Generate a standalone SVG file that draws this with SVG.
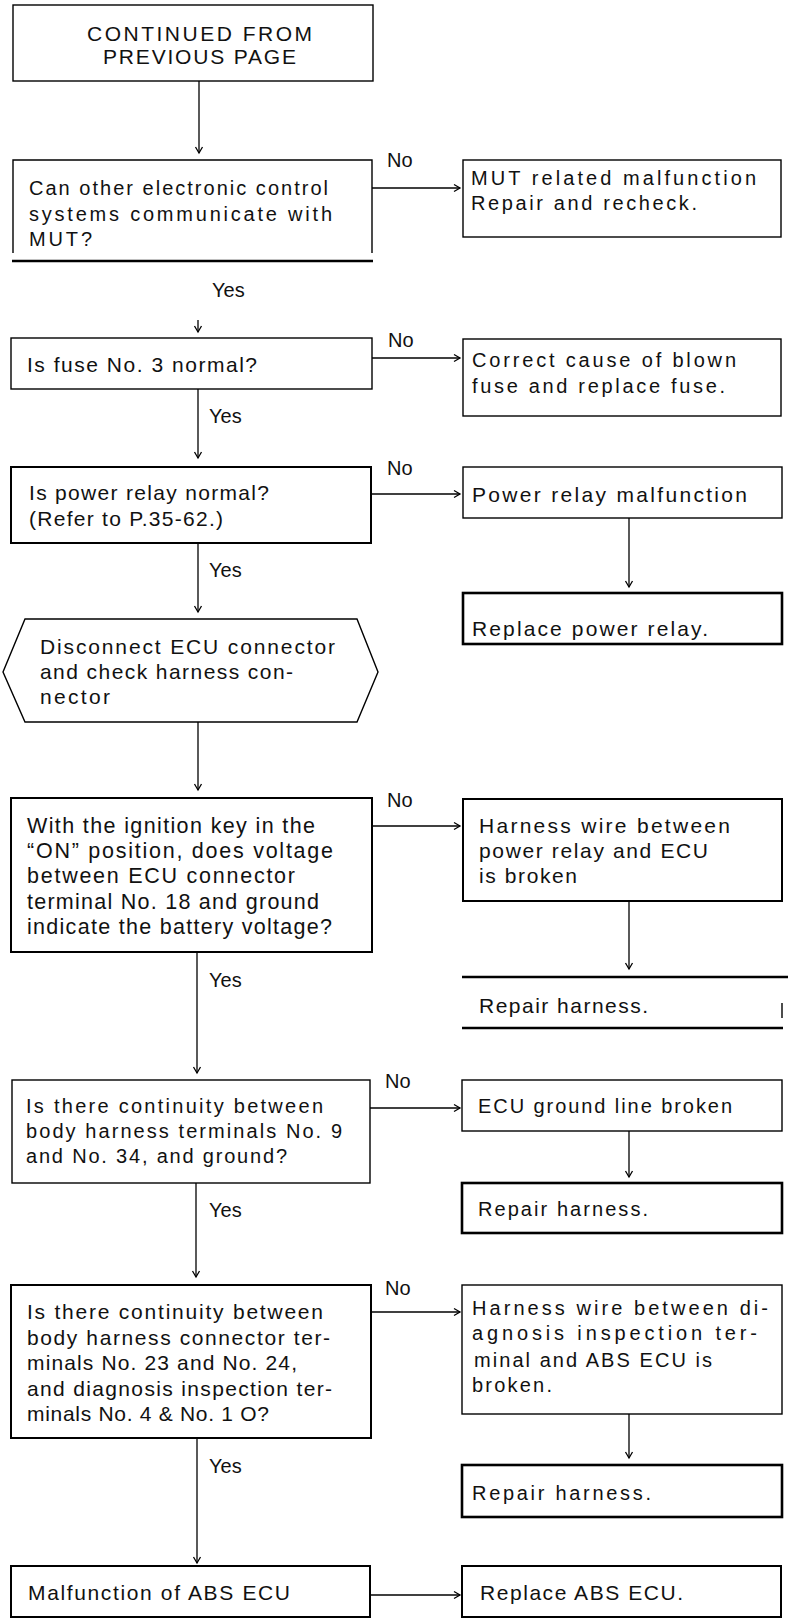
<svg xmlns="http://www.w3.org/2000/svg" width="788" height="1619" viewBox="0 0 788 1619">
<style>
  .n{fill:none;stroke:#000;stroke-width:1.4}
  .t{fill:none;stroke:#000;stroke-width:2}
  .k{fill:none;stroke:#000;stroke-width:2.6}
  text{font-family:"Liberation Sans",Arial,sans-serif;fill:#111;font-size:20px}
  .l{font-size:21px}
  .xl{font-size:21.5px}
  .c{fill:none;stroke:#000;stroke-width:1.3}
</style>
<defs>
  <marker id="ah" viewBox="-8 -5 10 10" refX="0" refY="0" markerWidth="10" markerHeight="10" markerUnits="userSpaceOnUse" orient="auto">
    <path d="M-6,-3.5 L0,0 L-6,3.5" fill="none" stroke="#000" stroke-width="1.3"/>
  </marker>
</defs>

<g id="connectors">
  <path class="c" d="M199,81 V153" marker-end="url(#ah)"/>
  <path class="c" d="M372,188 H460" marker-end="url(#ah)"/>
  <path class="c" d="M198,320 V332" marker-end="url(#ah)"/>
  <path class="c" d="M372,358 H460" marker-end="url(#ah)"/>
  <path class="c" d="M198,389 V458" marker-end="url(#ah)"/>
  <path class="c" d="M371,494 H460" marker-end="url(#ah)"/>
  <path class="c" d="M629,518 V587" marker-end="url(#ah)"/>
  <path class="c" d="M198,543 V612" marker-end="url(#ah)"/>
  <path class="c" d="M198,722 V790" marker-end="url(#ah)"/>
  <path class="c" d="M372,826 H460" marker-end="url(#ah)"/>
  <path class="c" d="M629,901 V969" marker-end="url(#ah)"/>
  <path class="c" d="M197,952 V1073" marker-end="url(#ah)"/>
  <path class="c" d="M370,1108 H460" marker-end="url(#ah)"/>
  <path class="c" d="M629,1131 V1177" marker-end="url(#ah)"/>
  <path class="c" d="M196,1183 V1277" marker-end="url(#ah)"/>
  <path class="c" d="M371,1312 H460" marker-end="url(#ah)"/>
  <path class="c" d="M629,1414 V1458" marker-end="url(#ah)"/>
  <path class="c" d="M197,1438 V1563" marker-end="url(#ah)"/>
  <path class="c" d="M370,1595 H460" marker-end="url(#ah)"/>
  <text x="387" y="167">No</text>
  <text x="388" y="347">No</text>
  <text x="387" y="475">No</text>
  <text x="387" y="807">No</text>
  <text x="385" y="1088">No</text>
  <text x="385" y="1295">No</text>
  <text x="212" y="297">Yes</text>
  <text x="209" y="423">Yes</text>
  <text x="209" y="577">Yes</text>
  <text x="209" y="987">Yes</text>
  <text x="209" y="1217">Yes</text>
  <text x="209" y="1473">Yes</text>
</g>

<g id="start">
  <rect class="n" x="13" y="5" width="360" height="76"/>
  <text class="l" x="87" y="41" textLength="225" lengthAdjust="spacing">CONTINUED  FROM</text>
  <text class="l" x="103" y="64" textLength="193" lengthAdjust="spacing">PREVIOUS  PAGE</text>
</g>

<g id="q-communicate">
  <path class="n" d="M13,253 V160 H372 V253"/>
  <path class="k" d="M12,261 H373"/>
  <text x="29" y="195" textLength="299" lengthAdjust="spacing">Can other electronic control</text>
  <text x="29" y="221" textLength="303" lengthAdjust="spacing">systems communicate with</text>
  <text x="29" y="246" textLength="63" lengthAdjust="spacing">MUT?</text>
</g>

<g id="mut-malfunction">
  <rect class="n" x="463" y="160" width="318" height="77"/>
  <text x="471" y="185" textLength="285" lengthAdjust="spacing">MUT related malfunction</text>
  <text x="471" y="210" textLength="226" lengthAdjust="spacing">Repair and recheck.</text>
</g>

<g id="q-fuse">
  <rect class="n" x="11" y="338" width="361" height="51"/>
  <text class="l" x="27" y="372" textLength="230" lengthAdjust="spacing">Is fuse No. 3 normal?</text>
</g>

<g id="correct-fuse">
  <rect class="n" x="463" y="339" width="318" height="77"/>
  <text x="472" y="367" textLength="264" lengthAdjust="spacing">Correct cause of blown</text>
  <text x="472" y="393" textLength="253" lengthAdjust="spacing">fuse and replace fuse.</text>
</g>

<g id="q-power-relay">
  <rect class="t" x="11" y="467" width="360" height="76"/>
  <text class="l" x="29" y="500" textLength="240" lengthAdjust="spacing">Is power relay normal?</text>
  <text class="l" x="29" y="526" textLength="194" lengthAdjust="spacing">(Refer to P.35-62.)</text>
</g>

<g id="power-relay-malfunction">
  <rect class="n" x="463" y="467" width="319" height="51"/>
  <text class="l" x="472" y="502" textLength="275" lengthAdjust="spacing">Power relay malfunction</text>
</g>

<g id="replace-power-relay">
  <rect class="k" x="463" y="593" width="319" height="51"/>
  <text class="l" x="472" y="636" textLength="236" lengthAdjust="spacing">Replace  power  relay.</text>
</g>

<g id="disconnect-ecu">
  <polygon class="n" points="25,619 357,619 378,672 357,722 25,722 3,672"/>
  <text class="l" x="40" y="654" textLength="295" lengthAdjust="spacing">Disconnect ECU connector</text>
  <text class="l" x="40" y="679" textLength="253" lengthAdjust="spacing">and check harness con-</text>
  <text class="l" x="40" y="704" textLength="70" lengthAdjust="spacing">nector</text>
</g>

<g id="q-ignition">
  <rect class="t" x="11" y="798" width="361" height="154"/>
  <text class="xl" x="27" y="833" textLength="288" lengthAdjust="spacing">With the ignition key in the</text>
  <text class="xl" x="27" y="858" textLength="306" lengthAdjust="spacing">“ON” position, does voltage</text>
  <text class="xl" x="27" y="883" textLength="268" lengthAdjust="spacing">between ECU connector</text>
  <text class="xl" x="27" y="909" textLength="292" lengthAdjust="spacing">terminal No. 18 and ground</text>
  <text class="xl" x="27" y="934" textLength="305" lengthAdjust="spacing">indicate the battery voltage?</text>
</g>

<g id="harness-power-ecu">
  <rect class="t" x="463" y="799" width="319" height="102"/>
  <text class="l" x="479" y="833" textLength="251" lengthAdjust="spacing">Harness  wire  between</text>
  <text class="l" x="479" y="858" textLength="229" lengthAdjust="spacing">power relay and ECU</text>
  <text class="l" x="479" y="883" textLength="98" lengthAdjust="spacing">is broken</text>
</g>

<g id="repair-harness-1">
  <path class="k" d="M462,977 H788"/>
  <path class="k" d="M462,1028 H783"/>
  <path class="n" d="M782,1003 V1018"/>
  <text class="l" x="479" y="1013" textLength="169" lengthAdjust="spacing">Repair  harness.</text>
</g>

<g id="q-continuity-ground">
  <rect class="n" x="12" y="1080" width="358" height="103"/>
  <text x="26" y="1113" textLength="297" lengthAdjust="spacing">Is there continuity between</text>
  <text x="26" y="1138" textLength="316" lengthAdjust="spacing">body harness terminals No. 9</text>
  <text x="26" y="1163" textLength="261" lengthAdjust="spacing">and No. 34, and ground?</text>
</g>

<g id="ecu-ground-broken">
  <rect class="n" x="462" y="1080" width="320" height="51"/>
  <text x="478" y="1113" textLength="254" lengthAdjust="spacing">ECU ground line broken</text>
</g>

<g id="repair-harness-2">
  <rect class="k" x="462" y="1183" width="320" height="50"/>
  <text x="478" y="1216" textLength="170" lengthAdjust="spacing">Repair harness.</text>
</g>

<g id="q-continuity-diagnosis">
  <rect class="t" x="11" y="1285" width="360" height="153"/>
  <text class="l" x="27" y="1319" textLength="296" lengthAdjust="spacing">Is there continuity between</text>
  <text class="l" x="27" y="1345" textLength="303" lengthAdjust="spacing">body harness connector ter-</text>
  <text class="l" x="27" y="1370" textLength="270" lengthAdjust="spacing">minals No. 23 and No. 24,</text>
  <text class="l" x="27" y="1396" textLength="305" lengthAdjust="spacing">and diagnosis inspection ter-</text>
  <text class="l" x="27" y="1421" textLength="242" lengthAdjust="spacing">minals No. 4 &amp; No. 1 O?</text>
</g>

<g id="harness-diagnosis-abs">
  <rect class="n" x="462" y="1285" width="320" height="129"/>
  <text x="472" y="1315" textLength="296" lengthAdjust="spacing">Harness wire between di-</text>
  <text x="472" y="1340" textLength="285" lengthAdjust="spacing">agnosis  inspection  ter-</text>
  <text x="474" y="1367" textLength="238" lengthAdjust="spacing">minal and ABS ECU is</text>
  <text x="472" y="1392" textLength="80" lengthAdjust="spacing">broken.</text>
</g>

<g id="repair-harness-3">
  <rect class="k" x="462" y="1465" width="320" height="52"/>
  <text x="472" y="1500" textLength="179" lengthAdjust="spacing">Repair harness.</text>
</g>

<g id="abs-ecu-malfunction">
  <rect class="t" x="11" y="1566" width="359" height="51"/>
  <text class="l" x="28" y="1600" textLength="262" lengthAdjust="spacing">Malfunction of ABS ECU</text>
</g>

<g id="replace-abs-ecu">
  <rect class="t" x="462" y="1566" width="319" height="51"/>
  <text class="l" x="480" y="1600" textLength="203" lengthAdjust="spacing">Replace ABS ECU.</text>
</g>
</svg>
